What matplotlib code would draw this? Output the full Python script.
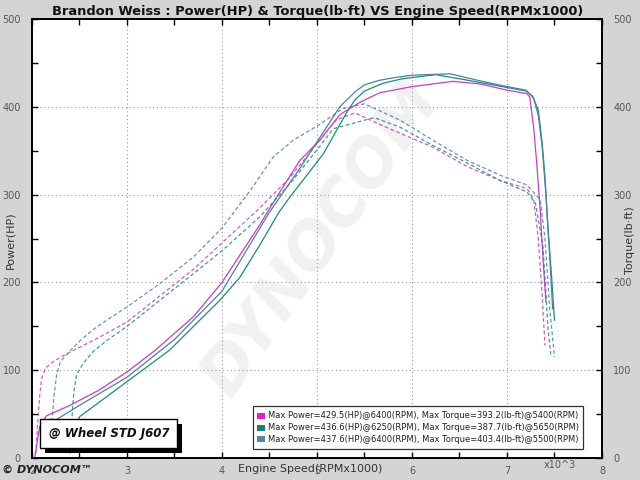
import matplotlib
matplotlib.use("Agg")
import matplotlib.pyplot as plt
from matplotlib.patches import Rectangle
from matplotlib.ticker import MultipleLocator

title = "Brandon Weiss : Power(HP) & Torque(lb·ft) VS Engine Speed(RPMx1000)"
colors = ["#c63fc6", "#1f8a7c", "#4f80a2"]
legend_colors = ["#e020d0", "#1a7f76", "#5585a5"]
legend_labels = [
    "Max Power=429.5(HP)@6400(RPM), Max Torque=393.2(lb-ft)@5400(RPM)",
    "Max Power=436.6(HP)@6250(RPM), Max Torque=387.7(lb-ft)@5650(RPM)",
    "Max Power=437.6(HP)@6400(RPM), Max Torque=403.4(lb-ft)@5500(RPM)",
]

# Run 1 (magenta)
p1_rpm = [2.03, 2.08, 2.15, 2.4, 2.7, 3.0, 3.3, 3.7, 4.0, 4.2, 4.4, 4.58, 4.82, 5.03, 5.24, 5.45, 5.66, 6.0, 6.43, 6.72, 7.0, 7.21, 7.24, 7.28, 7.31, 7.35, 7.38, 7.41]
p1_hp = [2, 35, 48, 60, 77, 98, 123, 161, 200, 233, 266, 298, 339, 362, 391, 405, 416, 423, 429, 426, 419, 415, 411, 377, 340, 282, 225, 178]
t1_rpm = [2.04, 2.06, 2.08, 2.1, 2.14, 2.2, 2.3, 2.5, 2.7, 3.0, 3.35, 3.7, 4.0, 4.4, 4.72, 5.03, 5.2, 5.4, 5.7, 6.22, 6.58, 6.93, 7.21, 7.28, 7.33, 7.37, 7.4]
t1_tq = [5, 40, 70, 90, 102, 108, 115, 126, 137, 155, 185, 215, 245, 285, 320, 362, 385, 393, 378, 354, 332, 316, 307, 295, 250, 185, 128]

# Run 2 (teal)
p2_rpm = [2.45, 2.5, 3.0, 3.45, 3.98, 4.19, 4.4, 4.6, 4.72, 4.9, 5.07, 5.2, 5.31, 5.4, 5.5, 5.7, 5.9, 6.25, 6.6, 7.0, 7.2, 7.27, 7.33, 7.37, 7.4, 7.43, 7.47, 7.5]
p2_hp = [30, 47, 87, 123, 180, 206, 243, 280, 298, 323, 347, 372, 393, 408, 418, 427, 432, 436.6, 430, 422, 418, 412, 396, 359, 320, 263, 206, 157]
t2_rpm = [2.4, 2.42, 2.44, 2.47, 2.54, 2.65, 2.79, 3.0, 3.35, 3.7, 4.01, 4.4, 4.72, 5.03, 5.17, 5.6, 5.87, 6.22, 6.58, 6.93, 7.21, 7.3, 7.38, 7.43, 7.46]
t2_tq = [5, 45, 75, 95, 108, 122, 134, 150, 180, 210, 237, 275, 313, 355, 375, 387.7, 377, 356, 336, 316, 303, 290, 240, 150, 118]

# Run 3 (steel blue)
p3_rpm = [2.15, 2.2, 2.5, 3.0, 3.5, 4.0, 4.25, 4.5, 4.82, 5.0, 5.24, 5.4, 5.5, 5.65, 5.8, 6.0, 6.4, 6.7, 7.0, 7.2, 7.28, 7.33, 7.37, 7.41, 7.45, 7.48]
p3_hp = [20, 40, 60, 92, 135, 190, 235, 280, 330, 360, 400, 417, 425, 430, 433, 436, 437.6, 430, 423, 419, 410, 390, 355, 300, 230, 170]
t3_rpm = [2.19, 2.21, 2.23, 2.26, 2.3, 2.4, 2.5, 2.64, 2.8, 3.0, 3.35, 3.7, 4.0, 4.3, 4.54, 4.75, 5.03, 5.27, 5.5, 5.87, 6.22, 6.58, 6.93, 7.21, 7.35, 7.4, 7.45, 7.5]
t3_tq = [6, 40, 70, 95, 110, 122, 133, 146, 158, 172, 199, 229, 262, 305, 343, 362, 380, 398, 403.4, 385, 362, 339, 322, 311, 294, 250, 170, 115]

x_ticks = [2, 3, 4, 5, 6, 7, 8]
y_ticks = [0, 100, 200, 300, 400, 500]

fig = plt.figure(figsize=(6.4, 4.8), dpi=100, facecolor="#d4d4d4")
ax = fig.add_axes([0.05, 0.0458, 0.8906, 0.9146])
ax.set_facecolor("white")
ax.set_xlim(2, 8)
ax.set_ylim(0, 500)

# watermark
ax.text(5.05, 250, "DYNOCOM", rotation=55, fontsize=46, fontweight="bold", fontstyle="italic",
        color="#f1f1f1", ha="center", va="center", zorder=0)

runs = [(p1_rpm, p1_hp, t1_rpm, t1_tq), (p2_rpm, p2_hp, t2_rpm, t2_tq), (p3_rpm, p3_hp, t3_rpm, t3_tq)]
for (pr, ph, tr, tt), c in zip(runs, colors):
    ax.plot(pr, ph, color=c, lw=0.9, zorder=3)
    ax.plot(tr, tt, color=c, lw=0.9, ls=(0, (3, 2)), alpha=0.85, zorder=3)

ax.set_xticks(x_ticks)
ax.set_yticks(y_ticks)
ax.xaxis.set_minor_locator(MultipleLocator(0.5))
ax.yaxis.set_minor_locator(MultipleLocator(50))
ax.grid(True, which="major", color="#999999", ls=(0, (1, 2.5)), lw=0.8)
ax.tick_params(which="both", direction="in", top=True, right=True, length=4, width=1, color="black",
               labelsize=7, labelcolor="#555555")
ax.tick_params(axis="x", pad=6)
ax.tick_params(axis="y", pad=8, labelleft=True, labelright=True)
for s in ax.spines.values():
    s.set_linewidth(1.4)

ax.set_xticklabels([str(v) for v in x_ticks])
fig.text(0.497, 0.977, title, ha="center", va="center", fontsize=9.4, fontweight="bold", color="#111111")
fig.text(0.016, 0.5, "Power(HP)", rotation=90, ha="center", va="center", fontsize=8, color="#333333")
fig.text(0.985, 0.5, "Torque(lb·ft)", rotation=90, ha="center", va="center", fontsize=8, color="#333333")
fig.text(0.484, 0.022, "Engine Speed(RPMx1000)", ha="center", va="center", fontsize=8, color="#333333")
fig.text(0.874, 0.031, "x10^3", ha="center", va="center", fontsize=7, color="#555555")
fig.text(0.003, 0.022, "© DYNOCOM™", ha="left", va="center", fontsize=8, fontweight="bold",
         fontstyle="italic", color="#222222")

# legend box
fig.patches.append(Rectangle((253 / 640, 1 - 449 / 480), 330 / 640, 43 / 480, transform=fig.transFigure,
                             facecolor="white", edgecolor="#333333", lw=0.9, zorder=5))
for i, (lab, c) in enumerate(zip(legend_labels, legend_colors)):
    yy = 1 - (416 + i * 11.5) / 480
    fig.patches.append(Rectangle((257 / 640, yy - 3 / 480), 8 / 640, 6 / 480, transform=fig.transFigure,
                                 facecolor=c, edgecolor="none", zorder=6))
    fig.text(268 / 640, yy, lab, ha="left", va="center", fontsize=6.0, color="#222222", zorder=6)

# J607 box with shadow
fig.patches.append(Rectangle((45 / 640, 1 - 453 / 480), 137 / 640, 29 / 480, transform=fig.transFigure,
                             facecolor="black", edgecolor="none", zorder=5))
fig.patches.append(Rectangle((40 / 640, 1 - 448 / 480), 137 / 640, 29 / 480, transform=fig.transFigure,
                             facecolor="white", edgecolor="black", lw=1, zorder=6))
fig.text(49 / 640, 1 - 434 / 480, "@ Wheel STD J607", ha="left", va="center", fontsize=8.5,
         fontweight="bold", fontstyle="italic", color="#111111", zorder=7)

fig.savefig("out.png", dpi=100, facecolor=fig.get_facecolor())
